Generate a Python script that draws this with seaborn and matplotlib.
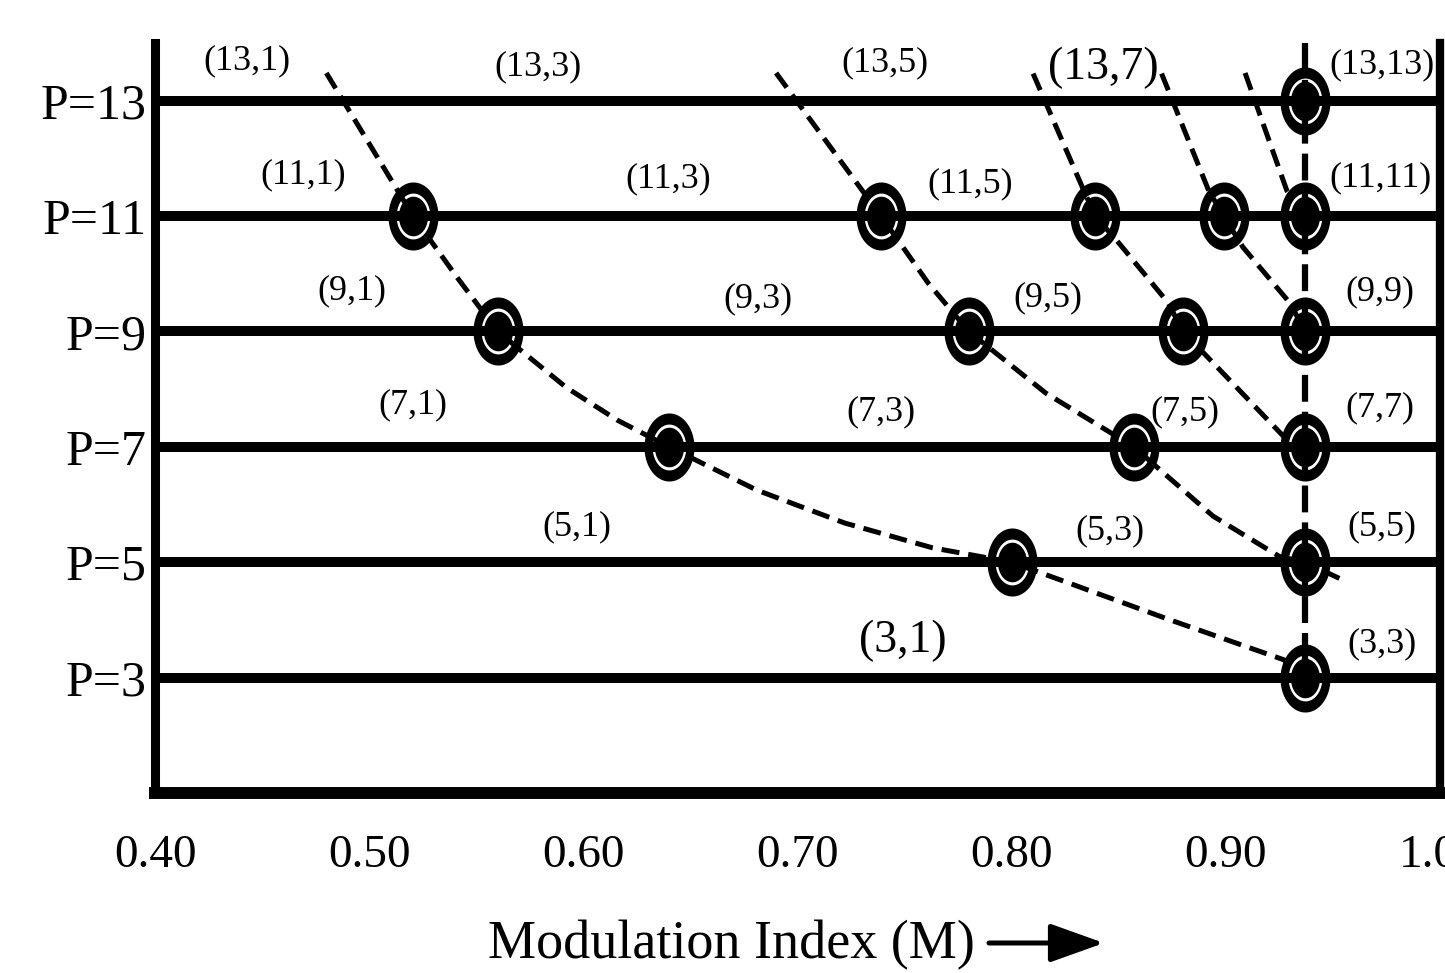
import numpy as np
import matplotlib
matplotlib.use('Agg')
import matplotlib.pyplot as plt
from matplotlib.path import Path
import seaborn as sns

# P levels and axis ticks
p_levels = [3, 5, 7, 9, 11, 13]
p_labels = ['P=3', 'P=5', 'P=7', 'P=9', 'P=11', 'P=13']
m_ticks = [0.40, 0.50, 0.60, 0.70, 0.80, 0.90, 1.00]
m_tick_labels = ['0.40', '0.50', '0.60', '0.70', '0.80', '0.90', '1.00']

# dashed curves
curve1_m = [0.480, 0.5205, 0.541, 0.560, 0.592, 0.616, 0.640, 0.681, 0.722, 0.763, 0.800, 0.874, 0.927, 0.937]
curve1_p = [13.48, 11, 9.94, 9, 8.03, 7.46, 7, 6.25, 5.68, 5.25, 5, 4.0, 3.31, 3]
curve2_m = [0.690, 0.739, 0.761, 0.780, 0.816, 0.857, 0.894, 0.925, 0.937, 0.953]
curve2_p = [13.48, 11, 9.84, 9, 7.93, 7, 5.8, 5.1, 5, 4.72]
curve3_m = [0.810, 0.833, 0.839, 0.849, 0.873, 0.880, 0.927, 0.937]
curve3_p = [13.47, 11.5, 11, 10.58, 9.5, 9, 7.18, 7]
curve4_m = [0.870, 0.892, 0.899, 0.908, 0.930, 0.937]
curve4_p = [13.47, 11.44, 11, 10.46, 9.49, 9]
curve5_m = [0.909, 0.9285, 0.931]
curve5_p = [13.48, 11.44, 11.32]
curves = [(curve1_m, curve1_p), (curve2_m, curve2_p), (curve3_m, curve3_p),
          (curve4_m, curve4_p), (curve5_m, curve5_p)]

# vertical limit line
limit_m = 0.937
limit_p = [14, 3]

# circled points
marker_m = [0.5205, 0.560, 0.640, 0.800, 0.739, 0.780, 0.857, 0.839, 0.880, 0.899,
            0.937, 0.937, 0.937, 0.937, 0.937, 0.937]
marker_p = [11, 9, 7, 5, 11, 9, 7, 11, 9, 11, 13, 11, 9, 7, 5, 3]

# point labels
point_labels = ['(13,1)', '(13,3)', '(13,5)', '(13,7)', '(13,13)',
                '(11,1)', '(11,3)', '(11,5)', '(11,11)',
                '(9,1)', '(9,3)', '(9,5)', '(9,9)',
                '(7,1)', '(7,3)', '(7,5)', '(7,7)',
                '(5,1)', '(5,3)', '(5,5)',
                '(3,1)', '(3,3)']
label_xy = [(0.443, 13.69), (0.579, 13.59), (0.741, 13.66), (0.843, 13.57), (0.973, 13.62),
            (0.469, 11.72), (0.6395, 11.65), (0.7805, 11.56), (0.972, 11.67),
            (0.492, 9.71), (0.6815, 9.57), (0.817, 9.59), (0.972, 9.68),
            (0.5205, 7.72), (0.739, 7.60), (0.881, 7.60), (0.972, 7.67),
            (0.597, 5.61), (0.846, 5.54), (0.973, 5.61),
            (0.749, 3.64), (0.973, 3.59)]
big_labels = ['(13,7)', '(3,1)']

sns.set_theme(style='white')
plt.rcParams['font.family'] = ['Liberation Serif', 'DejaVu Serif']
plt.rcParams['text.color'] = 'black'
plt.rcParams['xtick.color'] = 'black'
plt.rcParams['ytick.color'] = 'black'

W, H = 1445, 973
fig = plt.figure(figsize=(W / 100, H / 100), dpi=100)
ax = fig.add_axes([155 / W, 1 - 793 / H, (1440 - 155) / W, (793 - 43) / H])

# ellipse marker (the picture is stretched vertically)
t = np.linspace(0, 2 * np.pi, 80)
ell = Path(np.column_stack([0.735 * np.cos(t), np.sin(t)]), closed=True)

# circled points: black ring, thin white ring, black centre
sns.scatterplot(x=marker_m, y=marker_p, marker=ell, s=49 ** 2, color='black', linewidth=0, zorder=2, ax=ax)
sns.scatterplot(x=marker_m, y=marker_p, marker=ell, s=33 ** 2, color='white', linewidth=0, zorder=2.1, ax=ax)
sns.scatterplot(x=marker_m, y=marker_p, marker=ell, s=28.5 ** 2, color='black', linewidth=0, zorder=2.2, ax=ax)

for p in p_levels:
    ax.axhline(p, color='black', lw=7.2, zorder=3, solid_capstyle='butt')

for m, p in curves:
    sns.lineplot(x=m, y=p, sort=False, estimator=None, color='black', lw=3.6,
                 linestyle=(0, (3.6, 1.8)), zorder=4, ax=ax)

ax.plot([limit_m, limit_m], limit_p, color='black', lw=4.5, linestyle=(0, (4.3, 1.6)), zorder=4)

for txt, (x, y) in zip(point_labels, label_xy):
    fs = 33 if txt in big_labels else 26
    ax.text(x, y, txt, ha='center', va='center', fontsize=fs, color='black', zorder=5)

ax.set_xlim(0.40, 1.00)
ax.set_ylim(1, 14)
ax.set_xticks(m_ticks, m_tick_labels)
ax.set_yticks(p_levels, p_labels)
ax.tick_params(axis='x', length=0, pad=30, labelsize=34, labelcolor='black')
ax.tick_params(axis='y', length=0, pad=6, labelsize=36, labelcolor='black')
ax.set_xlabel('')
ax.set_ylabel('')

ax.spines['top'].set_visible(False)
ax.spines['left'].set_linewidth(6.5)
ax.spines['bottom'].set_linewidth(8.6)
ax.spines['right'].set_linewidth(6)
for s in ['left', 'bottom', 'right']:
    ax.spines[s].set_color('black')

fig.text(731 / W, 1 - 958 / H, 'Modulation Index (M)', ha='center', va='baseline', fontsize=39, color='black')
ax.annotate('', xy=(1104 / W, 1 - 943 / H), xytext=(989 / W, 1 - 943 / H),
            xycoords='figure fraction', textcoords='figure fraction',
            arrowprops=dict(arrowstyle='-|>,head_length=0.95,head_width=0.34', lw=3.6,
                            color='black', mutation_scale=35, shrinkA=0, shrinkB=0))

fig.savefig('out.png', dpi=100)
